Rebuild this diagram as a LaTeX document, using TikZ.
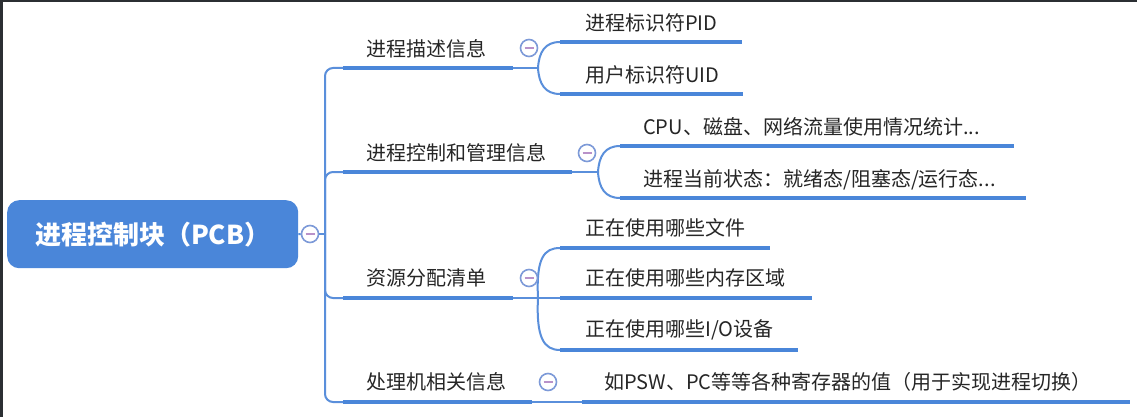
\documentclass[tikz,border=0pt]{standalone}
\usepackage{fontspec}
\setmainfont{Noto Sans CJK SC}
\definecolor{barblue}{HTML}{4A86D9}
\definecolor{thinblue}{HTML}{5A8FDB}
\definecolor{txt}{HTML}{262626}
\definecolor{framedark}{HTML}{2B2F33}
\definecolor{circblue}{HTML}{7D9AD8}
\definecolor{minuspink}{HTML}{B992C9}
\begin{document}
\begin{tikzpicture}[x=1pt,y=-1pt,
  topic/.style={anchor=west, inner sep=0pt, font=\fontsize{20}{24}\selectfont, text=txt},
  barline/.style={line width=4.5pt, draw=barblue},
  link/.style={line width=2pt, draw=thinblue},
  toggle/.style={circle, draw=circblue, line width=1.6pt, fill=white, minimum size=17pt, inner sep=0pt,
    path picture={\draw[minuspink, line width=1.5pt] ([xshift=-4.5pt]path picture bounding box.center) -- ([xshift=4.5pt]path picture bounding box.center);}},
]
\fill[framedark] (0,0) rectangle (1137,417);
\fill[white] (3,2) rectangle (1137,417);
\useasboundingbox (0,0) rectangle (1137,417);

% root
\node[fill=barblue, rounded corners=12pt, minimum width=291pt, minimum height=68pt, anchor=north west,
      text=white, font=\fontsize{26}{30}\selectfont\bfseries] (root) at (7,200) {进程控制块（PCB）};
\coordinate (hub) at (325,234);

% coordinates of bars
\coordinate (b1s) at (343,68);  \coordinate (b1e) at (513,68);  \coordinate (s1) at (538,68);
\coordinate (b2s) at (343,172); \coordinate (b2e) at (572,172); \coordinate (s2) at (598,172);
\coordinate (b3s) at (343,298); \coordinate (b3e) at (513,298); \coordinate (s3) at (538,298);
\coordinate (b4s) at (343,402); \coordinate (b4e) at (532,402);

\coordinate (c11s) at (560,42);  \coordinate (c11e) at (742,42);
\coordinate (c12s) at (560,94);  \coordinate (c12e) at (743,94);
\coordinate (c21s) at (620,146); \coordinate (c21e) at (1014,146);
\coordinate (c22s) at (620,198); \coordinate (c22e) at (1026,198);
\coordinate (c31s) at (560,248); \coordinate (c31e) at (770,248);
\coordinate (c32s) at (560,298); \coordinate (c32e) at (812,298);
\coordinate (c33s) at (560,350); \coordinate (c33e) at (798,350);
\coordinate (c41s) at (582,402); \coordinate (c41e) at (1130,402);

% trunk links
\node[toggle] (t0) at (310,234) {};
\draw[link] (root.east) -- (t0.west);
\draw[link] (t0.east) -- (hub);
\foreach \b in {b1s,b2s,b3s,b4s} { \draw[link, rounded corners=8pt] (hub) |- (\b); }

% topic bars
\draw[barline] (b1s) -- (b1e);
\draw[barline] (b2s) -- (b2e);
\draw[barline] (b3s) -- (b3e);
\draw[barline] (b4s) -- (b4e);

% split links
\draw[link] (b1e) -- (s1);
\draw[link] (s1) .. controls (539,52) and (545,42) .. (c11s);
\draw[link] (s1) .. controls (539,84) and (545,94) .. (c12s);
\draw[link] (b2e) -- (s2);
\draw[link] (s2) .. controls (599,156) and (605,146) .. (c21s);
\draw[link] (s2) .. controls (599,188) and (605,198) .. (c22s);
\draw[link] (b3e) -- (c32s);
\draw[link] (s3) .. controls (536,258) and (544,248) .. (c31s);
\draw[link] (s3) .. controls (536,338) and (544,350) .. (c33s);
\draw[link] (b4e) -- (c41s);

% child bars
\foreach \c in {c11,c12,c21,c22,c31,c32,c33,c41} { \draw[barline] (\c s) -- (\c e); }

% toggles
\node[toggle] (t1) at (529,48) {};
\node[toggle] (t2) at (587,153) {};
\node[toggle] (t3) at (529,278) {};
\node[toggle] (t4) at (548,382) {};

% texts
\node[topic] (n1) at (366,49) {进程描述信息};
\node[topic] (n2) at (366,153) {进程控制和管理信息};
\node[topic] (n3) at (366,278) {资源分配清单};
\node[topic] (n4) at (366,382) {处理机相关信息};

\node[topic] (n11) at (585,23) {进程标识符PID};
\node[topic] (n12) at (585,75) {用户标识符UID};
\node[topic] (n21) at (643,127) {CPU、磁盘、网络流量使用情况统计...};
\node[topic] (n22) at (643,180) {进程当前状态：就绪态/阻塞态/运行态...};
\node[topic] (n31) at (585,228) {正在使用哪些文件};
\node[topic] (n32) at (585,278) {正在使用哪些内存区域};
\node[topic] (n33) at (585,330) {正在使用哪些I/O设备};
\node[topic] (n41) at (604,382) {如PSW、PC等等各种寄存器的值（用于实现进程切换）};
\end{tikzpicture}
\end{document}
